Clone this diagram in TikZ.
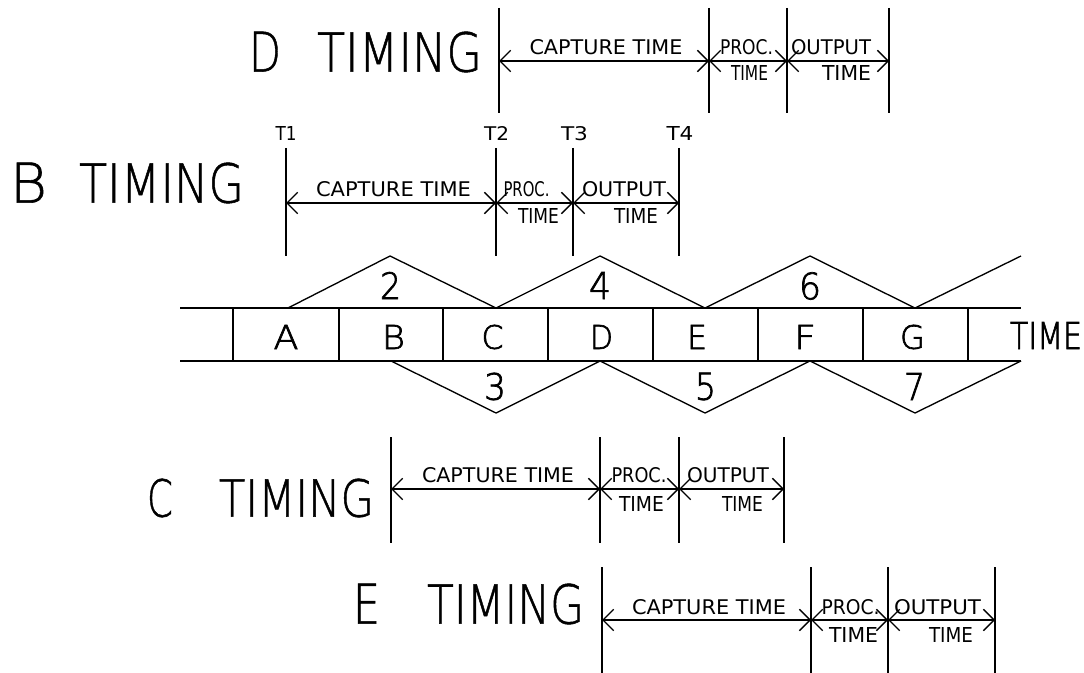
\documentclass[tikz,border=0pt]{standalone}
\usepackage{fontspec}
\usetikzlibrary{arrows.meta}
\newfontfamily\thinfont{DejaVu Sans ExtraLight}[FakeBold=1]
\newfontfamily\medfont{DejaVu Sans ExtraLight}[FakeBold=2]
\newfontfamily\smallfont{DejaVu Sans}
\newlength\px \setlength\px{0.75pt}
\newcommand\lbl[3]{\resizebox{#1\px}{#2\px}{\smallfont #3}}
\newcommand\thintxt[3]{\resizebox{#1\px}{#2\px}{\thinfont #3}}
\newcommand\medtxt[3]{\resizebox{#1\px}{#2\px}{\medfont #3}}
\begin{document}
\begin{tikzpicture}[x=0.75pt,y=-0.75pt,line width=1pt,
  dim/.style={line width=1pt,{Straight Barb[length=8pt,width=16pt]}-{Straight Barb[length=8pt,width=16pt]}},
  txt/.style={inner sep=0pt,outer sep=0pt},
  bigtxt/.style={inner sep=0pt,outer sep=0pt,anchor=west}]
\useasboundingbox (0,0) rectangle (1084,673);

% ---------- D timing ----------
\node[bigtxt] (dlab) at (249,52) {\thintxt{32}{40}{D}\hspace{36\px}\thintxt{165}{40}{TIMING}};
\foreach \n/\x in {1/499,2/709,3/787,4/889}{
  \coordinate (dt\n) at (\x,8); \coordinate (db\n) at (\x,113); \coordinate (da\n) at (\x,61);
  \draw (dt\n) -- (db\n);}
\draw[dim] (da1) -- (da2); \draw[dim] (da2) -- (da3); \draw[dim] (da3) -- (da4);
\node[txt] (dcap) at (606,47.5) {\lbl{153}{15}{CAPTURE TIME}};
\node[txt] (dproc) at (746.5,47.5) {\lbl{53}{15}{PROC.}};
\node[txt] (dptime) at (749.5,73.5) {\lbl{37}{15}{TIME}};
\node[txt] (dout) at (831,47.5) {\lbl{80}{15}{OUTPUT}};
\node[txt] (dotime) at (846.5,73.5) {\lbl{49}{15}{TIME}};

% ---------- B timing ----------
\node[bigtxt] (blab) at (10,183) {\thintxt{37}{40}{B}\hspace{32\px}\thintxt{165}{40}{TIMING}};
\foreach \n/\x in {1/286,2/496,3/573,4/679}{
  \coordinate (bt\n) at (\x,148); \coordinate (bb\n) at (\x,256); \coordinate (ba\n) at (\x,203);
  \draw (bt\n) -- (bb\n);}
\draw[dim] (ba1) -- (ba2); \draw[dim] (ba2) -- (ba3); \draw[dim] (ba3) -- (ba4);
\node[txt] (t1) at (286,133.5) {\lbl{21}{14}{T1}};
\node[txt] (t2) at (496.5,133.5) {\lbl{25}{14}{T2}};
\node[txt] (t3) at (574.5,133.5) {\lbl{27}{14}{T3}};
\node[txt] (t4) at (680,133.5) {\lbl{27}{14}{T4}};
\node[txt] (bcap) at (393.5,189.5) {\lbl{155}{15}{CAPTURE TIME}};
\node[txt] (bproc) at (526.5,189.5) {\lbl{46}{15}{PROC.}};
\node[txt] (bptime) at (538.5,216) {\lbl{41}{15}{TIME}};
\node[txt] (bout) at (624,189.5) {\lbl{84}{15}{OUTPUT}};
\node[txt] (botime) at (636,216) {\lbl{44}{15}{TIME}};

% ---------- time strip ----------
\coordinate (sl1) at (180,308); \coordinate (sr1) at (1021,308);
\coordinate (sl2) at (180,361); \coordinate (sr2) at (1021,361);
\draw (sl1) -- (sr1); \draw (sl2) -- (sr2);
\foreach \n/\x in {1/233,2/339,3/443,4/548,5/653,6/758,7/863,8/968}{
  \coordinate (dv\n) at (\x,308); \coordinate (dw\n) at (\x,361);
  \draw (dv\n) -- (dw\n);}
\foreach \n/\x/\w in {A/286/25,B/393.5/23,C/492.5/22,D/601.5/23,E/697/20,F/805/22,G/912.5/25}{
  \node[txt] (cell\n) at (\x,337) {\medtxt{\w}{24}{\n}};}
\node[txt] (timelab) at (1046,335.5) {\medtxt{72}{27}{TIME}};

% upper zigzag
\coordinate (u0) at (288,308); \coordinate (u1) at (390,256);
\coordinate (u2) at (496,308); \coordinate (u3) at (600,256);
\coordinate (u4) at (705,308); \coordinate (u5) at (810,256);
\coordinate (u6) at (915,308); \coordinate (u7) at (1021,256);
\draw (u0) -- (u1) -- (u2) -- (u3) -- (u4) -- (u5) -- (u6) -- (u7);
% lower zigzag
\coordinate (l0) at (391,361); \coordinate (l1) at (496,413);
\coordinate (l2) at (600,361); \coordinate (l3) at (705,413);
\coordinate (l4) at (810,361); \coordinate (l5) at (915,413);
\coordinate (l6) at (1021,361);
\draw (l0) -- (l1) -- (l2) -- (l3) -- (l4) -- (l5) -- (l6);
\node[txt] (n2) at (390.5,285.5) {\medtxt{21}{27}{2}};
\node[txt] (n4) at (600,285.5) {\medtxt{22}{27}{4}};
\node[txt] (n6) at (810,286) {\medtxt{22}{27}{6}};
\node[txt] (n3) at (495,386.5) {\medtxt{22}{27}{3}};
\node[txt] (n5) at (705.5,386.5) {\medtxt{21}{27}{5}};
\node[txt] (n7) at (914.5,386.5) {\medtxt{21}{27}{7}};

% ---------- C timing ----------
\node[bigtxt] (clab) at (147,498) {\thintxt{26}{38}{C}\hspace{46\px}\thintxt{155}{38}{TIMING}};
\foreach \n/\x in {1/391,2/600,3/679,4/784}{
  \coordinate (ct\n) at (\x,437); \coordinate (cb\n) at (\x,543); \coordinate (ca\n) at (\x,489);
  \draw (ct\n) -- (cb\n);}
\draw[dim] (ca1) -- (ca2); \draw[dim] (ca2) -- (ca3); \draw[dim] (ca3) -- (ca4);
\node[txt] (ccap) at (498,475.5) {\lbl{152}{15}{CAPTURE TIME}};
\node[txt] (cproc) at (639,475.5) {\lbl{55}{15}{PROC.}};
\node[txt] (cptime) at (641.5,503.5) {\lbl{45}{15}{TIME}};
\node[txt] (cout) at (728,475.5) {\lbl{82}{15}{OUTPUT}};
\node[txt] (cotime) at (742.5,503.5) {\lbl{41}{15}{TIME}};

% ---------- E timing ----------
\node[bigtxt] (elab) at (353,604) {\thintxt{27}{40}{E}\hspace{47\px}\thintxt{157}{40}{TIMING}};
\foreach \n/\x in {1/602,2/811,3/888,4/995}{
  \coordinate (et\n) at (\x,567); \coordinate (eb\n) at (\x,673); \coordinate (ea\n) at (\x,620);
  \draw (et\n) -- (eb\n);}
\draw[dim] (ea1) -- (ea2); \draw[dim] (ea2) -- (ea3); \draw[dim] (ea3) -- (ea4);
\node[txt] (ecap) at (709,607.5) {\lbl{154}{15}{CAPTURE TIME}};
\node[txt] (eproc) at (850.5,607.5) {\lbl{58}{15}{PROC.}};
\node[txt] (eptime) at (853.5,635) {\lbl{49}{15}{TIME}};
\node[txt] (eout) at (937.5,607.5) {\lbl{87}{15}{OUTPUT}};
\node[txt] (eotime) at (951,635) {\lbl{44}{15}{TIME}};
\end{tikzpicture}
\end{document}
